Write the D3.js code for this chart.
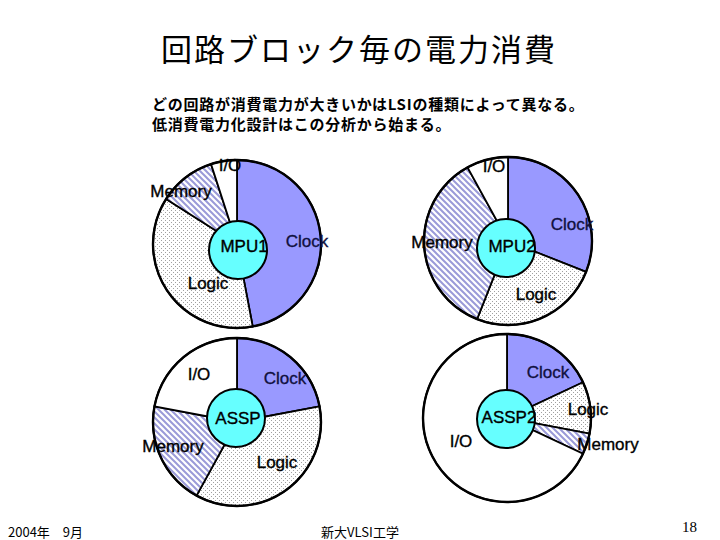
<!DOCTYPE html>
<html><head><meta charset="utf-8">
<script src="https://cdn.jsdelivr.net/npm/d3@7"></script>
<style>
html,body{margin:0;padding:0;background:#fff;}
svg{display:block;}
</style></head>
<body>
<svg id="c" width="720" height="540"></svg>
<script>
// ---- data ----
const categories = ["Clock", "Logic", "Memory", "I/O"];
const chartNames = ["MPU1", "MPU2", "ASSP", "ASSP2"];
const mpu1Values  = [47, 37, 11, 5];
const mpu2Values  = [31, 25, 36, 8];
const asspValues  = [22, 36, 20, 22];
const assp2Values = [18, 10, 4, 68];
const titleText = "回路ブロック毎の電力消費";
const subtitleLines = ["どの回路が消費電力が大きいかはLSIの種類によって異なる。", "低消費電力化設計はこの分析から始まる。"];
const footerLeft = "2004年　9月";
const footerCenter = "新大VLSI工学";
const pageNumber = "18";

// ---- layout ----
const allValues = [mpu1Values, mpu2Values, asspValues, assp2Values];
const layout = [
  {cx: 237, cy: 244, hx: 1, hy: 6,
   labels: [[307,247],[208,289],[181,197],[230,171]], name: [244,252]},
  {cx: 508, cy: 241, hx: -2, hy: 7,
   labels: [[572,230],[536,300],[442,248],[494,172]], name: [512,252]},
  {cx: 237, cy: 422, hx: -1, hy: -4,
   labels: [[285,384],[277,468],[173,452],[199,380]], name: [238,424]},
  {cx: 507, cy: 418, hx: -1, hy: 1,
   labels: [[548,378],[588,415],[608,450],[461,447]], name: [509,423]}
];
const R = 84, r0 = 29;
const colors = {Clock: "#9999ff", IO: "#ffffff", hub: "#66ffff"};

const svg = d3.select("#c");
const defs = svg.append("defs");
// dotted pattern for Logic
const pd = defs.append("pattern").attr("id","dots").attr("patternUnits","userSpaceOnUse")
  .attr("width",4).attr("height",4);
pd.append("rect").attr("width",4).attr("height",4).attr("fill","#ffffff");
pd.append("rect").attr("x",0).attr("y",0).attr("width",1).attr("height",1).attr("fill","#a0a0a0");
pd.append("rect").attr("x",2).attr("y",2).attr("width",1).attr("height",1).attr("fill","#a0a0a0");
// stripe pattern for Memory
const ps = defs.append("pattern").attr("id","stripes").attr("patternUnits","userSpaceOnUse")
  .attr("width",6).attr("height",6);
ps.append("rect").attr("width",6).attr("height",6).attr("fill","#ffffff");
ps.append("path").attr("d","M-1,-1 L7,7 M-4,2 L2,8 M4,-2 L8,2")
  .attr("stroke","#9a9ad8").attr("stroke-width",2);

const fillFor = c => c === "Clock" ? colors.Clock : c === "Logic" ? "url(#dots)" : c === "Memory" ? "url(#stripes)" : colors.IO;

const pie = d3.pie().sort(null).value(d => d.v);
const arc = d3.arc().innerRadius(0).outerRadius(R);

chartNames.forEach((name, i) => {
  const L = layout[i];
  const data = categories.map((c, j) => ({c, v: allValues[i][j]}));
  const g = svg.append("g").attr("transform", `translate(${L.cx},${L.cy})`);
  g.selectAll("path.slice").data(pie(data)).join("path")
    .attr("class","slice")
    .attr("d", arc)
    .attr("fill", d => fillFor(d.data.c))
    .attr("stroke", "#000")
    .attr("stroke-width", 1.8)
    .attr("stroke-linejoin","round");
  g.append("circle").attr("r", R).attr("fill","none").attr("stroke","#000").attr("stroke-width",2.4);
  g.append("circle").attr("cx", L.hx).attr("cy", L.hy).attr("r", r0)
    .attr("fill", colors.hub).attr("stroke","#000").attr("stroke-width",2);
  // labels
  categories.forEach((c, j) => {
    svg.append("text").attr("x", L.labels[j][0]).attr("y", L.labels[j][1])
      .attr("text-anchor","middle")
      .attr("font-family","'Liberation Sans', Arial, sans-serif")
      .attr("font-size",17)
      .attr("fill", c === "Clock" ? "#101040" : "#000")
      .attr("stroke", c === "Clock" ? "#101040" : "#000").attr("stroke-width",0.35)
      .text(c);
  });
  svg.append("text").attr("x", L.name[0]).attr("y", L.name[1])
    .attr("text-anchor","middle")
    .attr("font-family","'Liberation Sans', Arial, sans-serif")
    .attr("font-size",17)
    .attr("fill","#000").attr("stroke","#000").attr("stroke-width",0.35)
    .text(name);
});

// title
svg.append("text").attr("x", 359).attr("y", 61).attr("text-anchor","middle")
  .attr("font-family","'Noto Sans CJK JP', sans-serif").attr("font-size",31)
  .attr("letter-spacing", 2)
  .attr("fill","#000").text(titleText);
subtitleLines.forEach((t, k) => {
  svg.append("text").attr("x", 152).attr("y", 110 + k*20)
    .attr("font-family","'Noto Sans CJK JP', sans-serif").attr("font-size",15)
    .attr("letter-spacing", 0.75)
    .attr("font-weight","bold").attr("fill","#000").text(t);
});
// footer
svg.append("text").attr("x", 8).attr("y", 537)
  .attr("font-family","'Noto Sans CJK JP', sans-serif").attr("font-size",13).text(footerLeft);
svg.append("text").attr("x", 360).attr("y", 537).attr("text-anchor","middle")
  .attr("font-family","'Noto Sans CJK JP', sans-serif").attr("font-size",13).text(footerCenter);
svg.append("text").attr("x", 697).attr("y", 532).attr("text-anchor","end")
  .attr("font-family","'Liberation Serif', serif").attr("font-size",15).text(pageNumber);
</script>
</body></html>
